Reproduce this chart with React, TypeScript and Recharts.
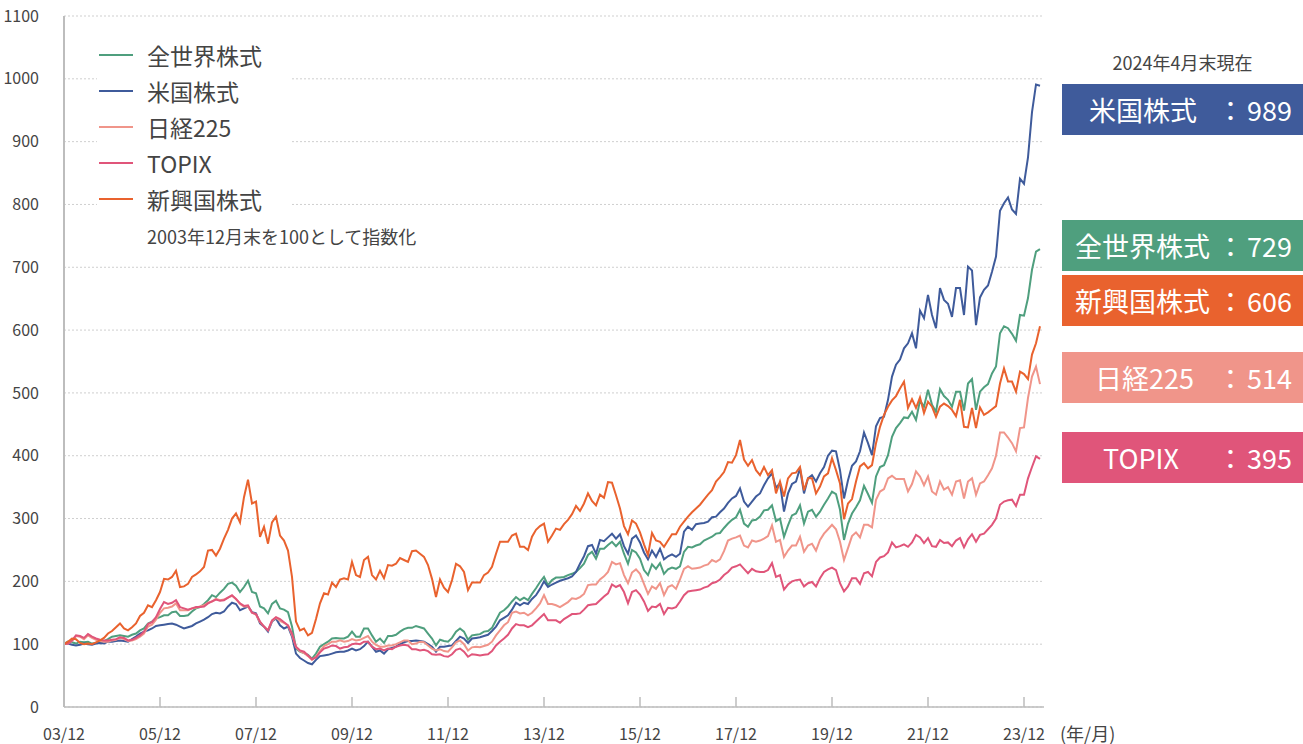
import React from 'react';
import { LineChart, Line, XAxis, YAxis, CartesianGrid } from 'recharts';

// x: month index, 0 = 2003/12 ... 244 = 2024/04
const xTicks = [0, 24, 48, 72, 96, 120, 144, 168, 192, 216, 240];
const xTickLabels = ['03/12', '05/12', '07/12', '09/12', '11/12', '13/12', '15/12', '17/12', '19/12', '21/12', '23/12'];
const yTicks = [0, 100, 200, 300, 400, 500, 600, 700, 800, 900, 1000, 1100];

// 全世界株式
const world = [
  100,
  104, 103, 101, 104, 103, 104, 101, 102, 102, 105, 108, 112,
  113, 114, 113, 112, 115, 117, 122, 125, 133, 136, 141, 143,
  146, 146, 151, 152, 145, 145, 146, 152, 157, 159, 164, 170,
  178, 175, 182, 188, 196, 198, 193, 183, 191, 201, 183, 181,
  160, 157, 149, 164, 169, 157, 155, 151, 128, 93, 88, 86,
  83, 77, 85, 96, 100, 104, 109, 110, 109, 109, 112, 120,
  112, 112, 125, 125, 114, 104, 109, 102, 113, 113, 115, 120,
  124, 126, 126, 129, 127, 125, 117, 109, 98, 107, 105, 104,
  110, 120, 125, 120, 107, 114, 115, 116, 120, 121, 126, 138,
  150, 154, 160, 168, 175, 170, 174, 170, 180, 189, 199, 207,
  194, 202, 206, 206, 207, 210, 212, 215, 221, 228, 242, 247,
  236, 252, 252, 258, 263, 256, 263, 244, 228, 250, 246, 236,
  218, 210, 227, 220, 229, 212, 219, 222, 220, 224, 247, 255,
  254, 257, 259, 265, 268, 271, 276, 277, 285, 292, 298, 302,
  314, 292, 287, 297, 298, 303, 313, 314, 321, 296, 300, 271,
  289, 305, 308, 321, 292, 311, 314, 303, 311, 322, 332, 343,
  339, 314, 266, 292, 308, 318, 329, 352, 339, 325, 367, 382,
  385, 401, 430, 444, 452, 461, 460, 470, 457, 488, 478, 505,
  481, 470, 506, 495, 489, 478, 502, 502, 472, 515, 522, 473,
  502, 509, 514, 531, 542, 595, 606, 603, 594, 583, 624, 623,
  651, 696, 725, 729,
];

// 米国株式
const us = [
  100,
  101, 99, 98, 99, 101, 100, 99, 101, 102, 101, 104, 104,
  105, 106, 105, 104, 108, 112, 117, 120, 122, 125, 129, 130,
  131, 132, 133, 131, 128, 125, 127, 129, 133, 136, 139, 143,
  148, 150, 149, 152, 160, 166, 164, 154, 157, 160, 151, 149,
  133, 128, 120, 136, 141, 130, 125, 128, 112, 85, 78, 74,
  70, 68, 75, 81, 82, 83, 85, 87, 88, 88, 90, 93,
  90, 92, 97, 104, 96, 88, 90, 85, 92, 94, 96, 100,
  103, 105, 105, 106, 105, 104, 100, 96, 88, 96, 96, 97,
  98, 105, 112, 109, 102, 109, 110, 111, 113, 115, 121, 128,
  138, 142, 146, 155, 166, 162, 166, 164, 172, 178, 188, 200,
  191, 195, 198, 201, 203, 205, 208, 215, 228, 240, 256, 258,
  244, 266, 264, 270, 276, 268, 275, 256, 244, 268, 273, 262,
  246, 235, 249, 239, 252, 235, 240, 243, 239, 244, 279, 287,
  282, 291, 292, 293, 295, 302, 303, 310, 316, 325, 332, 336,
  348, 327, 319, 327, 335, 340, 353, 364, 372, 349, 356, 311,
  340, 355, 359, 380, 340, 364, 369, 359, 372, 382, 400, 408,
  407, 377, 332, 361, 384, 391, 407, 437, 420, 401, 447, 460,
  462, 489, 526, 545, 553, 571, 579, 595, 571, 631, 619, 656,
  624, 603, 667, 648, 642, 621, 667, 667, 624, 701, 695, 608,
  652, 664, 671, 693, 717, 790, 802, 811, 792, 785, 841, 833,
  875, 947, 991, 989,
];

// 日経225
const nikkei = [
  100,
  101, 105, 113, 112, 108, 114, 110, 107, 105, 104, 104, 106,
  107, 110, 108, 105, 106, 108, 112, 117, 128, 131, 139, 150,
  157, 158, 160, 165, 154, 154, 154, 157, 158, 160, 162, 166,
  168, 172, 170, 171, 174, 177, 172, 164, 160, 160, 150, 147,
  135, 128, 122, 137, 142, 137, 134, 130, 115, 95, 89, 86,
  81, 75, 80, 89, 97, 100, 104, 104, 106, 104, 105, 108,
  106, 107, 110, 113, 104, 99, 96, 96, 98, 98, 100, 103,
  106, 106, 100, 101, 104, 103, 98, 93, 90, 92, 89, 88,
  95, 103, 106, 100, 90, 95, 96, 95, 97, 99, 104, 114,
  122, 130, 135, 150, 152, 149, 150, 146, 150, 157, 165, 178,
  164, 164, 162, 159, 163, 167, 173, 172, 175, 180, 194, 195,
  195, 203, 208, 215, 231, 227, 229, 210, 197, 214, 219, 212,
  196, 180, 192, 188, 197, 178, 191, 194, 188, 203, 220, 224,
  220, 221, 222, 225, 227, 234, 231, 235, 248, 265, 268, 270,
  273, 257, 254, 265, 263, 265, 268, 272, 289, 263, 266, 239,
  249, 257, 257, 271, 247, 257, 260, 249, 266, 276, 283, 290,
  283, 263, 234, 253, 272, 278, 270, 290, 290, 286, 330, 343,
  347, 364, 368, 363, 363, 363, 343, 355, 375, 367, 353, 367,
  343, 338, 359, 346, 350, 338, 359, 361, 332, 359, 364, 338,
  356, 359, 369, 380, 400, 437, 437, 429, 420, 407, 444, 445,
  492, 526, 542, 514,
];

// TOPIX
const topix = [
  100,
  101, 106, 114, 113, 110, 116, 112, 109, 107, 106, 106, 107,
  108, 111, 110, 106, 107, 110, 114, 120, 132, 135, 143, 156,
  167, 164, 166, 170, 159, 157, 155, 157, 159, 159, 160, 165,
  168, 171, 169, 170, 174, 178, 172, 165, 161, 162, 150, 148,
  136, 128, 122, 138, 143, 140, 135, 130, 117, 96, 90, 88,
  82, 76, 79, 87, 93, 95, 98, 97, 93, 95, 96, 100,
  101, 100, 104, 104, 96, 92, 93, 90, 93, 92, 96, 98,
  99, 98, 92, 92, 90, 91, 89, 84, 83, 84, 81, 80,
  84, 91, 93, 88, 80, 84, 83, 82, 83, 84, 89, 98,
  104, 109, 115, 125, 132, 130, 130, 127, 130, 136, 142, 148,
  138, 138, 138, 134, 140, 144, 148, 148, 149, 155, 162, 163,
  164, 170, 176, 181, 195, 191, 194, 183, 165, 183, 186, 179,
  168, 153, 160, 159, 164, 148, 158, 157, 159, 168, 178, 184,
  185, 186, 187, 190, 192, 197, 199, 203, 210, 215, 222, 224,
  227, 220, 213, 220, 216, 215, 215, 218, 229, 207, 210, 187,
  195, 200, 202, 203, 192, 197, 199, 192, 205, 215, 219, 222,
  218, 197, 184, 192, 205, 205, 196, 213, 215, 208, 231, 238,
  240, 246, 262, 254, 256, 259, 255, 262, 274, 270, 261, 269,
  256, 255, 266, 261, 262, 256, 265, 269, 254, 267, 275, 263,
  274, 276, 283, 290, 300, 322, 327, 329, 330, 320, 338, 338,
  364, 382, 399, 395,
];

// 新興国株式
const em = [
  100,
  104, 109, 108, 102, 100, 101, 100, 103, 106, 110, 117, 121,
  127, 133, 125, 122, 127, 133, 145, 150, 162, 159, 170, 183,
  204, 203, 207, 217, 191, 192, 196, 207, 211, 216, 223, 249,
  250, 241, 252, 268, 282, 300, 308, 294, 334, 362, 324, 327,
  271, 287, 260, 294, 303, 273, 265, 249, 207, 136, 122, 125,
  114, 118, 140, 165, 181, 179, 198, 191, 203, 205, 203, 231,
  210, 207, 234, 239, 210, 203, 217, 205, 226, 225, 228, 237,
  234, 231, 248, 249, 244, 239, 226, 204, 175, 203, 190, 183,
  202, 228, 224, 215, 186, 198, 198, 198, 210, 214, 223, 244,
  263, 263, 263, 273, 276, 255, 255, 250, 271, 282, 288, 292,
  263, 273, 284, 282, 291, 298, 307, 320, 312, 324, 340, 328,
  321, 338, 333, 358, 357, 337, 316, 288, 275, 297, 292, 278,
  259, 242, 277, 265, 263, 255, 265, 275, 275, 287, 295, 303,
  310, 316, 322, 330, 338, 345, 359, 366, 374, 390, 389, 401,
  425, 394, 384, 393, 377, 369, 382, 369, 377, 340, 359, 335,
  364, 372, 373, 382, 345, 364, 364, 340, 351, 367, 372, 396,
  377, 356, 299, 324, 331, 359, 383, 388, 380, 385, 420, 446,
  465, 478, 488, 495, 507, 518, 476, 490, 476, 493, 468, 486,
  478, 462, 478, 483, 479, 473, 463, 489, 446, 445, 476, 444,
  477, 465, 469, 474, 479, 515, 539, 518, 518, 502, 534, 530,
  522, 561, 579, 606,
];

const seriesKeys = ['world', 'us', 'nikkei', 'topix', 'em'];
const seriesNames = ['全世界株式', '米国株式', '日経225', 'TOPIX', '新興国株式'];
const seriesColors = ['#4F9F7E', '#3F5B9B', '#F0958A', '#E0557A', '#E9622E'];
const seriesValues = [world, us, nikkei, topix, em];

const data = world.map((_, i) => {
  const row: Record<string, number> = { i };
  seriesKeys.forEach((k, s) => {
    row[k] = seriesValues[s][i];
  });
  return row;
});

// right-hand summary boxes (order top to bottom)
const boxOrder = [1, 0, 4, 2, 3];
const boxTops = [84, 220, 275, 352, 432];
const boxNameLeft = [27, 13, 13, 33, 41];

const FONT = '"Noto Sans CJK JP", "Noto Sans", sans-serif';
const TICK_MARGIN = 26;

const XTick = (props: any) => {
  const { x, y, payload } = props;
  const idx = xTicks.indexOf(payload.value);
  const axisY = y - TICK_MARGIN;
  return (
    <g>
      {payload.value !== 0 && (
        <line x1={x} x2={x} y1={axisY} y2={axisY - 10} stroke="#bdbdbd" strokeWidth={1.5} />
      )}
      <text x={x} y={y} textAnchor="middle" dominantBaseline="central" fill="#444" fontSize={16}>
        {xTickLabels[idx]}
      </text>
    </g>
  );
};

export default function App() {
  return (
    <div style={{ position: 'absolute', left: 0, top: 0, width: 1303, height: 744, background: '#fff', fontFamily: FONT }}>
      <LineChart width={1303} height={744} data={data} margin={{ top: 16, right: 259, bottom: 0, left: 0 }}>
        <CartesianGrid vertical={false} stroke="#cfcfcf" strokeDasharray="2 2" />
        <XAxis
          dataKey="i"
          type="number"
          domain={[0, 245]}
          ticks={xTicks}
          interval={0}
          height={37}
          tickSize={0}
          tickMargin={TICK_MARGIN}
          tickLine={false}
          axisLine={{ stroke: '#bdbdbd', strokeWidth: 1.5 }}
          tick={<XTick />}
        />
        <YAxis
          type="number"
          domain={[0, 1100]}
          ticks={yTicks}
          interval={0}
          width={64}
          tickSize={0}
          tickMargin={25}
          tickLine={false}
          axisLine={{ stroke: '#bdbdbd', strokeWidth: 2 }}
          tick={{ fill: '#444', fontSize: 16 }}
        />
        {seriesKeys.map((k, s) => (
          <Line
            key={k}
            type="linear"
            dataKey={k}
            name={seriesNames[s]}
            stroke={seriesColors[s]}
            strokeWidth={2}
            dot={false}
            isAnimationActive={false}
          />
        ))}
      </LineChart>

      {/* legend */}
      <div style={{ position: 'absolute', left: 97, top: 32, width: 193, height: 184, background: '#fff' }} />
      {seriesNames.map((n, s) => (
        <div key={n} style={{ position: 'absolute', left: 99, top: 55 + s * 36 - 15, height: 30, display: 'flex', alignItems: 'center' }}>
          <div style={{ width: 34, height: 2, background: seriesColors[s] }} />
          <span style={{ marginLeft: 14, fontSize: 23, color: '#444', lineHeight: '30px', whiteSpace: 'nowrap' }}>{n}</span>
        </div>
      ))}
      <div style={{ position: 'absolute', left: 147, top: 224, fontSize: 18, color: '#444', lineHeight: '24px', whiteSpace: 'nowrap' }}>
        2003年12月末を100として指数化
      </div>
      <div style={{ position: 'absolute', left: 1060, top: 722, fontSize: 18, color: '#444', lineHeight: '22px', whiteSpace: 'nowrap' }}>
        (年/月)
      </div>

      {/* right panel */}
      <div style={{ position: 'absolute', left: 1062, top: 50, width: 241, textAlign: 'center', fontSize: 18, color: '#444', lineHeight: '24px' }}>
        2024年4月末現在
      </div>
      {boxOrder.map((s, b) => {
        const vals = seriesValues[s];
        return (
          <div
            key={seriesNames[s]}
            style={{
              position: 'absolute',
              left: 1062,
              top: boxTops[b],
              width: 241,
              height: 51,
              background: seriesColors[s],
              color: '#fff',
              fontSize: 27,
              lineHeight: '51px',
            }}
          >
            <span style={{ position: 'absolute', left: boxNameLeft[b], whiteSpace: 'nowrap' }}>{seriesNames[s]}</span>
            <span style={{ position: 'absolute', left: 155, width: 27, textAlign: 'center' }}>：</span>
            <span style={{ position: 'absolute', right: 11 }}>{vals[vals.length - 1]}</span>
          </div>
        );
      })}
    </div>
  );
}
